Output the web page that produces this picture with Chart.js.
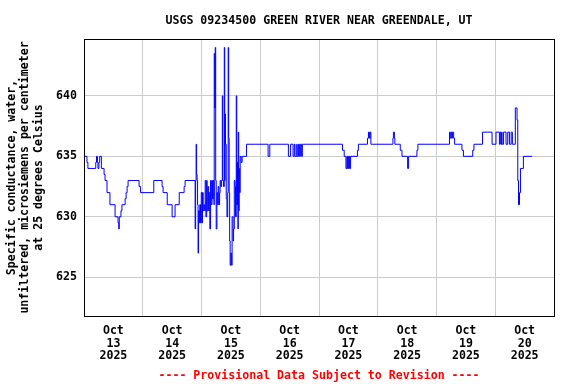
<!DOCTYPE html>
<html>
<head>
<meta charset="utf-8">
<script src="https://cdn.jsdelivr.net/npm/chart.js@4"></script>
<style>
  html, body { margin: 0; padding: 0; background: #fff; }
  #wrap { width: 576px; height: 384px; }
</style>
</head>
<body>
<div id="wrap"><canvas id="chart" width="576" height="384"></canvas></div>
<script>
// hours since Oct 13 2025 00:00, value where the reading changes
const hours = [
    0, 1.2, 1.6, 4.8, 5.1, 5.5, 5.7, 6.1, 6.4, 7.1, 8.2, 8.6, 9.4, 10.6, 12.7, 13.9,
    14.2, 14.4, 15.1, 15.5, 16.8, 17.2, 17.6, 18.0, 22.5, 23.1, 28.5, 31.9, 32.3, 34.0,
    36.0, 37.2, 38.9, 40.9, 41.3,
    // unsettled period Oct 14 - 15
    45.4, 45.6, 45.8, 46.0, 46.2, 46.4, 46.6, 46.8, 47.1, 47.3, 47.6, 47.9, 48.2, 48.4,
    48.7, 49.0, 49.3, 49.5, 49.8, 50.1, 50.3, 50.6, 50.9, 51.1, 51.4, 51.7, 52.0, 52.3,
    52.5, 52.8, 53.1, 53.2, 53.4, 53.6, 53.8, 54.0, 54.3, 54.6, 54.8, 55.1, 55.4, 55.6,
    55.9, 56.2, 56.5, 56.7, 57.0, 57.3, 57.5, 57.6, 57.8, 58.1, 58.4, 58.7, 58.9, 59.1,
    59.3, 59.5, 59.7, 60.0, 60.3, 60.5, 60.9, 61.1, 61.4, 61.7, 61.9, 62.2, 62.4, 62.7,
    62.9, 63.0, 63.2, 63.4, 63.6, 63.8, 64.2, 64.6,
    66.4, 75.2, 75.9, 83.5, 84.4, 85.4, 85.9, 86.2, 86.9, 87.1, 87.6, 88.0, 88.4, 88.9,
    89.2, 105.6, 106.3, 107.0, 107.4, 107.6, 107.8, 108.0, 108.4, 108.6, 108.9, 111.7,
    112.1, 115.8, 116.2, 116.6, 116.9, 117.2, 126.2, 126.4, 126.8, 127.0, 129.2, 129.9,
    132.2, 132.6, 136.0, 136.4, 149.3, 149.6, 149.9, 150.2, 150.5, 151.0, 151.4, 154.4,
    155.0, 158.8, 159.3, 162.8, 166.7, 168.3, 169.7, 170.0, 170.3, 170.6, 170.8, 171.4,
    172.4, 173.1, 173.8, 174.5, 175.0, 176.2, 176.9, 177.2, 177.5, 177.9, 178.3, 179.5,
    183.1
];
const conductance = [
    635, 634.5, 634, 634.5, 635, 634.5, 634, 634.5, 635, 634, 633.5, 633, 632, 631, 630, 629.5,
    629, 630, 630.5, 631, 631.5, 632, 632.5, 633, 632.5, 632, 633, 632.5, 632, 631,
    630, 631, 632, 632.5, 633,
    629, 633, 636, 633.5, 633, 631, 627, 630.5, 629.5, 631, 629.5, 632, 629.5, 632,
    630.5, 631, 630.5, 633, 630, 633, 630.5, 632.5, 630.5, 632, 629, 633, 631, 633,
    631.5, 633, 631, 643.5, 639, 644, 633, 629, 632, 631, 632.5, 631, 632, 633,
    632.5, 633, 640, 633, 632.5, 644, 633, 638.5, 636, 631.5, 630, 632, 644, 636.5,
    632, 628, 626, 627, 626, 630, 628, 629, 633, 632.5, 630, 640, 631, 634.5,
    629, 637, 630.5, 634, 632, 635, 634.5, 635,
    636, 635, 636, 635, 636, 635, 636, 635, 636, 635, 636, 635, 636, 635,
    636, 635.5, 635, 634, 635, 634, 635, 634, 635, 634, 635, 635.5,
    636, 636.5, 637, 636.5, 637, 636, 636.5, 637, 636.5, 636, 635.5, 635,
    634, 635, 635.5, 636, 637, 636.5, 637, 636.5, 637, 636.5, 636, 635.5,
    635, 635.5, 636, 637, 636, 637, 636, 637, 636, 637, 636, 637,
    636, 637, 636, 637, 636, 639, 638, 633, 631, 632, 634, 635,
    635
];

const xTicks = [0, 12, 24, 36, 48, 60, 72, 84, 96, 108, 120, 132, 144, 156, 168, 180, 192];
const yTicks = [625, 630, 635, 640];
const dayLabels = ["13", "14", "15", "16", "17", "18", "19", "20"];
const monthLabel = "Oct";
const yearLabel = "2025";

const titleText = "USGS 09234500 GREEN RIVER NEAR GREENDALE, UT";
const yTitleLines = [
    "Specific conductance, water,",
    "unfiltered, microsiemens per centimeter",
    "at 25 degrees Celsius",
];
const footerText = "---- Provisional Data Subject to Revision ----";

const monoFont = '"DejaVu Sans Mono", "Liberation Mono", monospace';
const fontSize = 11.6;

// frame round the plot plus the texts USGS puts outside the axes
const decorations = {
    id: "decorations",
    afterDraw(chart) {
        const ctx = chart.ctx;
        const area = chart.chartArea;
        const midX = (area.left + area.right) / 2;
        const midY = (area.top + area.bottom) / 2;

        ctx.save();
        ctx.strokeStyle = "#000";
        ctx.lineWidth = 1;
        ctx.strokeRect(Math.round(area.left) + 0.5, Math.round(area.top) + 0.5,
            Math.round(area.right - area.left), Math.round(area.bottom - area.top));

        ctx.font = `bold ${fontSize}px ${monoFont}`;
        ctx.textAlign = "center";
        ctx.textBaseline = "middle";
        ctx.fillStyle = "#000";
        ctx.fillText(titleText, midX, 21);

        ctx.fillStyle = "#ff0000";
        ctx.fillText(footerText, midX, 376);

        ctx.fillStyle = "#000";
        const lineX = [11.5, 25, 38.5];
        yTitleLines.forEach((line, i) => {
            ctx.save();
            ctx.translate(lineX[i], midY);
            ctx.rotate(-Math.PI / 2);
            ctx.fillText(line, 0, 0);
            ctx.restore();
        });
        ctx.restore();
    },
};

const points = hours.map((h, i) => ({ x: h, y: conductance[i] }));

new Chart(document.getElementById("chart"), {
    type: "line",
    data: {
        datasets: [
            {
                data: points,
                stepped: true,
                borderColor: "#0000ff",
                borderWidth: 1,
                pointRadius: 0,
                fill: false,
            },
        ],
    },
    options: {
        responsive: false,
        animation: false,
        events: [],
        layout: {
            padding: { top: 39, right: 22, left: 0, bottom: 0 },
        },
        plugins: {
            legend: { display: false },
            tooltip: { enabled: false },
        },
        scales: {
            x: {
                type: "linear",
                min: 0,
                max: 192,
                afterBuildTicks: (scale) => {
                    scale.ticks = xTicks.map((v) => ({ value: v }));
                },
                afterFit: (scale) => {
                    scale.height = 68;
                },
                grid: {
                    color: (c) => (c.tick && c.tick.value % 24 === 0 ? "#cccccc" : "rgba(0,0,0,0)"),
                    drawTicks: false,
                    lineWidth: 1,
                },
                border: { display: false },
                ticks: {
                    autoSkip: false,
                    maxRotation: 0,
                    padding: 9,
                    color: "#000",
                    font: { family: monoFont, size: fontSize, weight: "bold", lineHeight: 1.08 },
                    callback: (value) => {
                        if (value % 24 !== 12) return "";
                        return [monthLabel, dayLabels[(value - 12) / 24], yearLabel];
                    },
                },
            },
            y: {
                min: 621.8,
                max: 644.7,
                afterBuildTicks: (scale) => {
                    scale.ticks = yTicks.map((v) => ({ value: v }));
                },
                afterFit: (scale) => {
                    scale.width = 84;
                },
                grid: {
                    color: "#cccccc",
                    drawTicks: false,
                    lineWidth: 1,
                },
                border: { display: false },
                ticks: {
                    padding: 7,
                    color: "#000",
                    font: { family: monoFont, size: fontSize, weight: "bold" },
                },
            },
        },
    },
    plugins: [decorations],
});
</script>
</body>
</html>
